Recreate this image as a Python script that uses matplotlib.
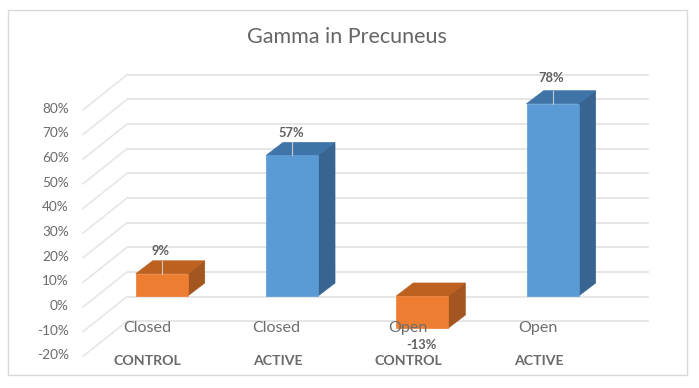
import matplotlib
matplotlib.use("Agg")
import matplotlib.pyplot as plt
from matplotlib.patches import Rectangle

plt.rcParams['font.family'] = ['Lato', 'DejaVu Sans']

title = "Gamma in Precuneus"
states = ["Closed", "Closed", "Open", "Open"]
groups = ["CONTROL", "ACTIVE", "CONTROL", "ACTIVE"]
values = [9, 57, -13, 78]
value_labels = ["9%", "57%", "-13%", "78%"]
ticks = [-20, -10, 0, 10, 20, 30, 40, 50, 60, 70, 80]

W, H = 699, 388
X0, XSTEP = 161.7, 130.3   # px of first category, px per category
Y0, YSCALE = 296.0, 2.465  # px of value 0 in the bar plane, px per percent

fig = plt.figure(figsize=(W / 100, H / 100), dpi=100, facecolor="white")
ax = fig.add_axes([0, 0, 1, 1])
ax.set_xlim((0 - X0) / XSTEP, (W - X0) / XSTEP)
ax.set_ylim((Y0 - H) / YSCALE, Y0 / YSCALE)
ax.axis("off")

px = lambda p: (p - X0) / XSTEP   # horizontal pixel -> category units
dv = lambda p: p / YSCALE         # vertical pixel distance -> percent units

# chart frame
ax.add_patch(Rectangle((px(8), dv(Y0 - 375)), (687 - 8) / XSTEP, (375 - 10) / YSCALE,
                       fill=False, ec="#d9d9d9", lw=1.0, zorder=1))

GRID = "#e6e6e6"
back_left, back_right, front_left = px(127), px(649), px(83)
back_up, front_down = dv(24), dv(11)
for t in ticks:
    ax.plot([back_left, back_right], [t + back_up] * 2, color=GRID, lw=1.4, zorder=2,
            solid_capstyle="butt")
    ax.plot([front_left, back_left], [t - front_down, t + back_up], color=GRID, lw=1.2, zorder=2)
    ax.text(px(69), t - dv(10), f"{t}%", ha="right", va="center", fontsize=9.8, color="#6b6b6b")

WIDTH = 52 / XSTEP
DX, DV = 17 / XSTEP, dv(13)
palette = {"CONTROL": ("#ED7D31", "#BD6120", "#A3561F"),
           "ACTIVE": ("#5B9BD5", "#3F74A8", "#376490")}

for i, (v, g) in enumerate(zip(values, groups)):
    front, top, side = palette[g]
    l, r = i - WIDTH / 2, i + WIDTH / 2
    ax.fill([r, r + DX, r + DX, r], [0, DV, v + DV, v], color=side, lw=0.5, zorder=3)
    ax.fill([l, r, r + DX, l + DX], [max(v, 0)] * 2 + [max(v, 0) + DV] * 2, color=top, lw=0.5, zorder=3)
    ax.bar(i, v, width=WIDTH, color=front, edgecolor=front, lw=0.5, zorder=3.5)
    if v > 0:
        ax.plot([i, i], [v, v + DV], color="#c9c9c9", lw=0.8, zorder=4)

label_pos = [(161, 251), (291, 133), (421, 345), (551, 78)]
for s, g, lab, (lx, ly), sx, gx in zip(states, groups, value_labels, label_pos,
                                       [147, 276, 408, 538], [147, 278, 408, 539]):
    ax.text(px(sx), dv(Y0 - 328), s, ha="center", va="center", fontsize=11.6, color="#6e6e6e", zorder=5)
    ax.text(px(gx), dv(Y0 - 361), g, ha="center", va="center", fontsize=10.2, fontweight="bold",
            color="#6a6a6a", zorder=5)
    ax.text(px(lx), dv(Y0 - ly), lab, ha="center", va="center", fontsize=9.3, fontweight="bold",
            color="#5f5f5f", zorder=5)

ax.text(px(347), dv(Y0 - 37), title, ha="center", va="center", fontsize=15.5, color="#666666")

fig.savefig("out.png", dpi=100)
